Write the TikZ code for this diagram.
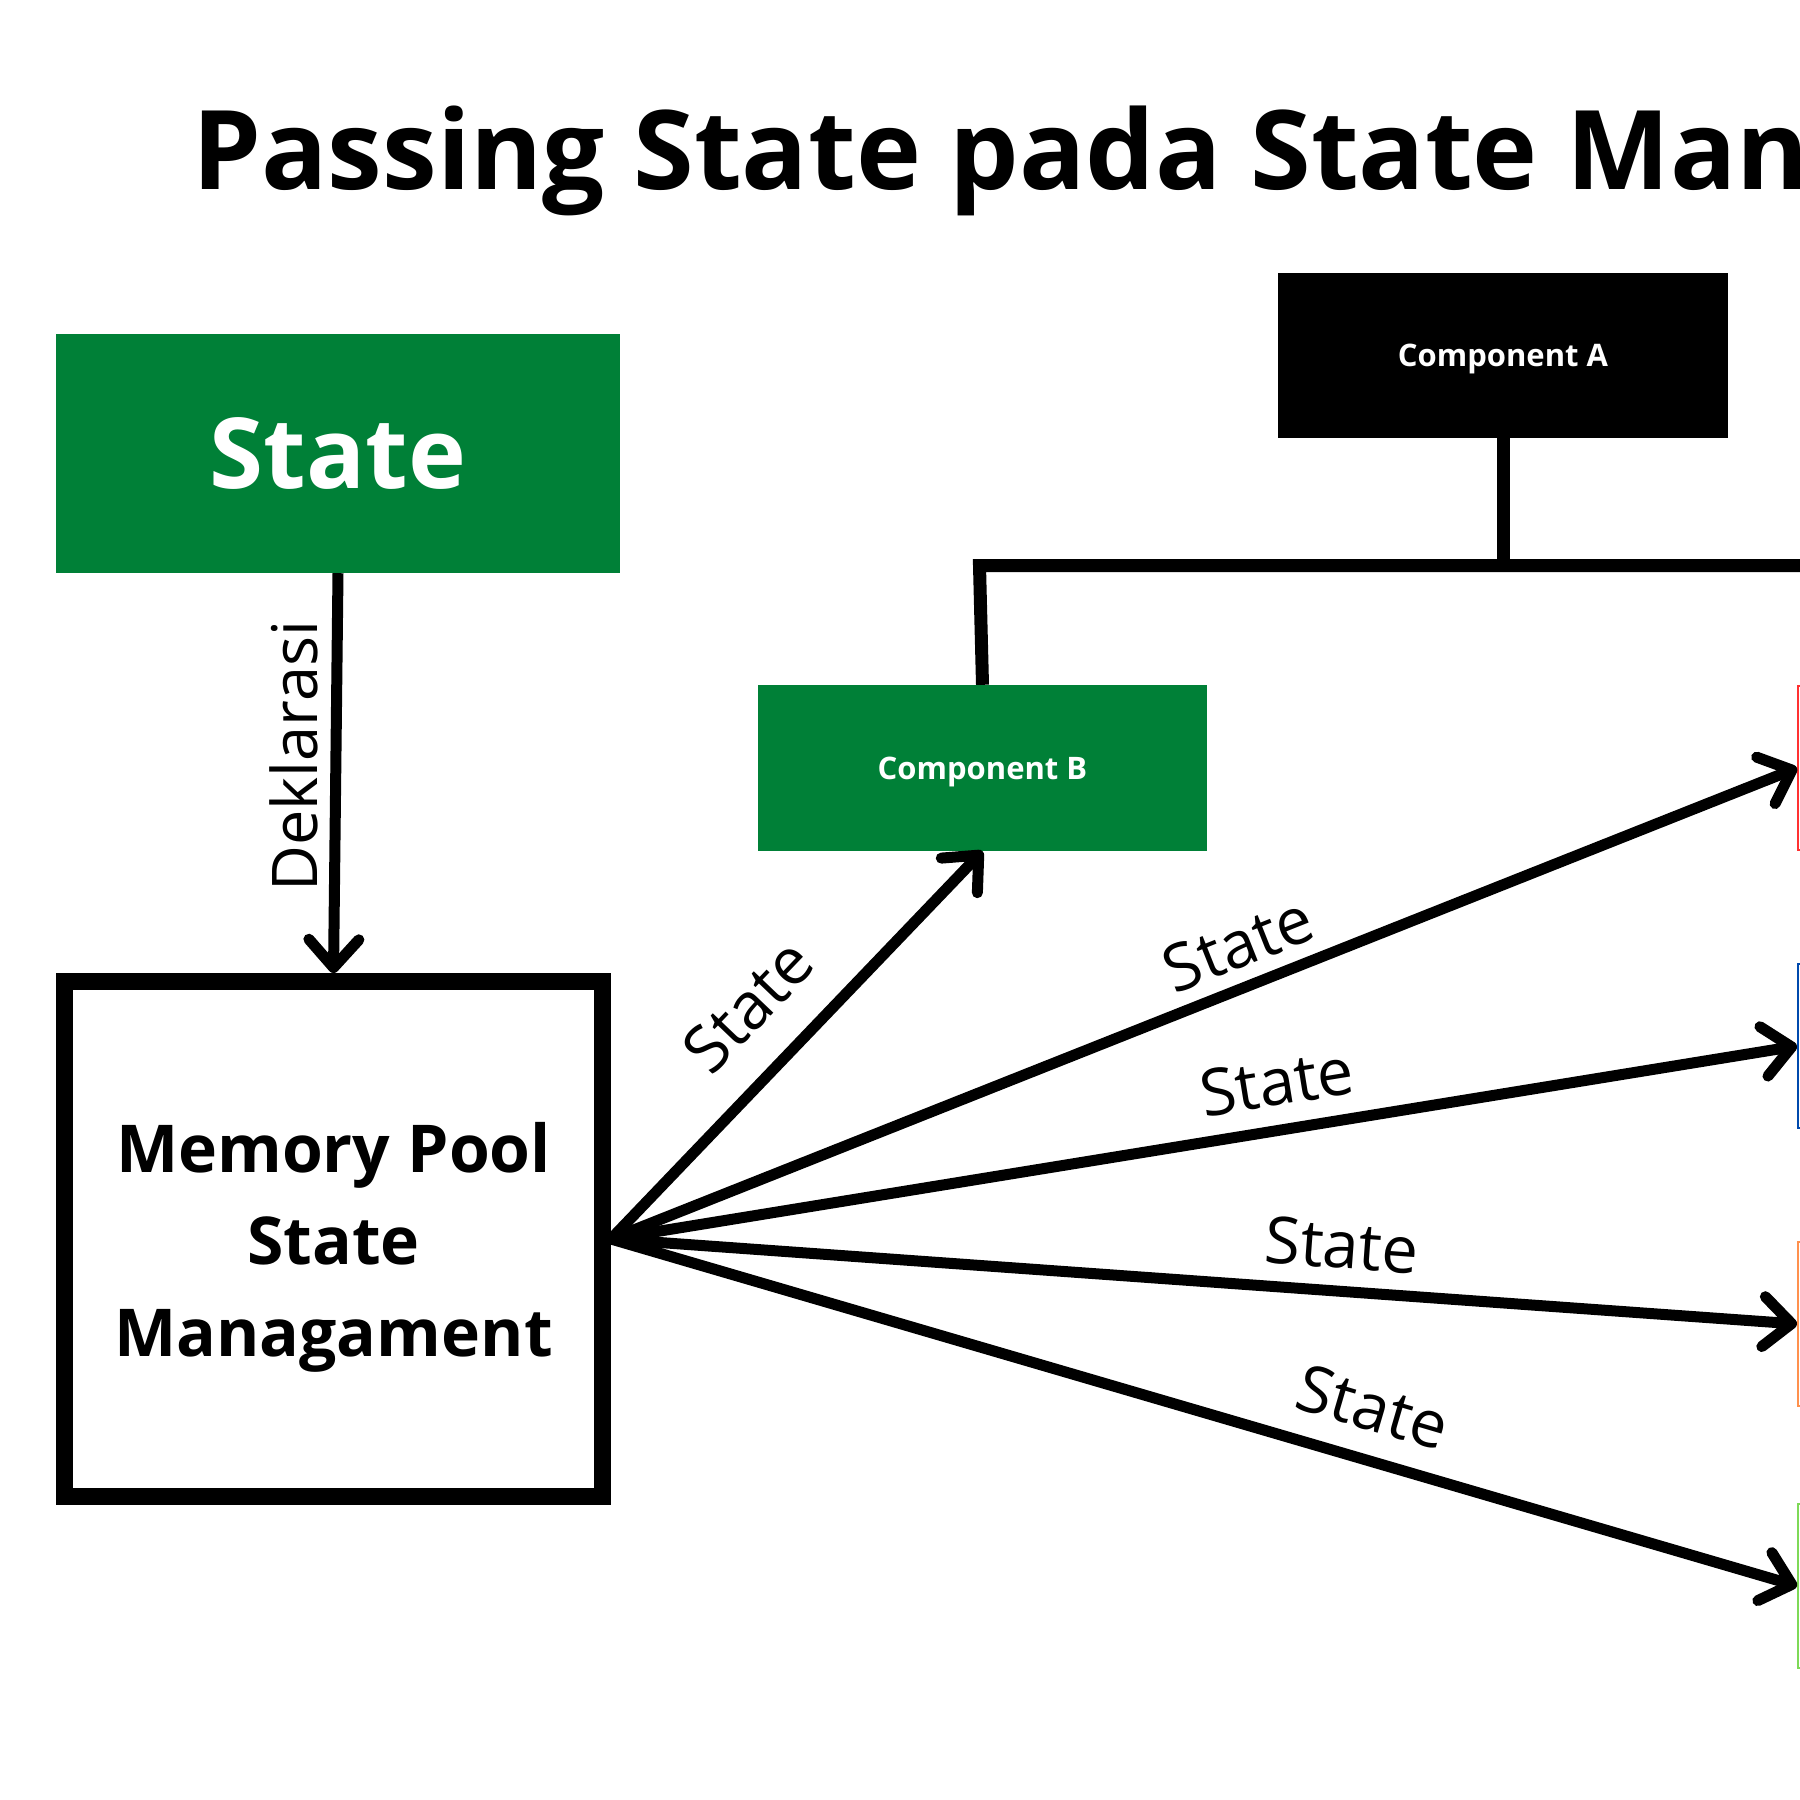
\documentclass[tikz,border=0pt]{standalone}
\usepackage{fontspec}
\setmainfont{Open Sans}
\usetikzlibrary{arrows.meta}
\definecolor{cgreen}{HTML}{008037}
\definecolor{cred}{HTML}{FF3131}
\definecolor{cblue}{HTML}{004AAD}
\definecolor{corange}{HTML}{FF914D}
\definecolor{clime}{HTML}{7ED957}
\tikzset{
  conn/.style={line width=11pt, -{Straight Barb[length=28pt,width=50pt,round]}},
  wire/.style={line width=13pt},
  lbl/.style={font=\fontsize{65}{65}\selectfont, inner sep=0pt},
  compbox/.style={minimum width=450pt, minimum height=165pt, inner sep=0pt, text=white,
    text depth=0pt, font=\fontsize{31}{31}\selectfont\bfseries},
  edgebox/.style={draw=#1, line width=2pt, fill=white, minimum width=400pt,
    minimum height=164pt, anchor=west, inner sep=0pt},
}
\begin{document}
\begin{tikzpicture}[x=1pt,y=-1pt]
\useasboundingbox (0,0) rectangle (1800,1800);
\clip (0,0) rectangle (1800,1800);
\fill[white] (0,0) rectangle (1800,1800);

% title
\node[anchor=base west, inner sep=0pt, font=\fontsize{110}{110}\selectfont\bfseries] (title) at (192,189) {Passing State pada State Man};

% boxes
\node[fill=cgreen, minimum width=564pt, minimum height=239pt, inner sep=0pt, text=white,
  font=\fontsize{98}{98}\selectfont\bfseries] (state) at (338,453.5) {State};
\node[compbox, fill=black] (compA) at (1503,355.5) {Component A};
\node[compbox, fill=cgreen, minimum width=449pt, minimum height=166pt] (compB) at (982.5,768) {Component B};
\node[draw, line width=17pt, minimum width=538pt, minimum height=515pt, inner sep=0pt, align=center,
  text depth=0pt, font=\fontsize{66}{92}\selectfont\bfseries] (mem) at (333.5,1239) {Memory Pool\\State\\Managament};

% boxes cut off at the right edge
\node[edgebox=cred] (c1) at (1797,768) {};
\node[edgebox=cblue] (c2) at (1797,1046) {};
\node[edgebox=corange] (c3) at (1797,1324) {};
\node[edgebox=clime] (c4) at (1797,1586) {};

% tree wires
\coordinate (junc) at (1503,565.5);
\coordinate (corner) at (979.5,565.5);
\coordinate (rightend) at (1880,565.5);
\draw[wire] (compA.south) -- (junc);
\draw[wire] (compB.north) -- (corner) -- (rightend);

% arrows
\draw[conn] (state.south) -- (mem.north);
\draw[conn] (mem.east) -- (compB.south);
\draw[conn] (mem.east) -- (c1.west);
\draw[conn] (mem.east) -- (c2.west);
\draw[conn] (mem.east) -- (c3.west);
\draw[conn] (mem.east) -- (c4.west);

% labels
\node[lbl, font=\fontsize{63}{63}\selectfont, anchor=base, rotate=90] (dek) at (317,756) {Deklarasi};
\node[lbl, rotate=46.3] (s1) at (748,1006) {State};
\node[lbl, rotate=21.7] (s2) at (1238,944) {State};
\node[lbl, rotate=9.2] (s3) at (1277,1082) {State};
\node[lbl, rotate=-4.2] (s4) at (1342,1245) {State};
\node[lbl, rotate=-16.4] (s5) at (1373,1407) {State};
\end{tikzpicture}
\end{document}
